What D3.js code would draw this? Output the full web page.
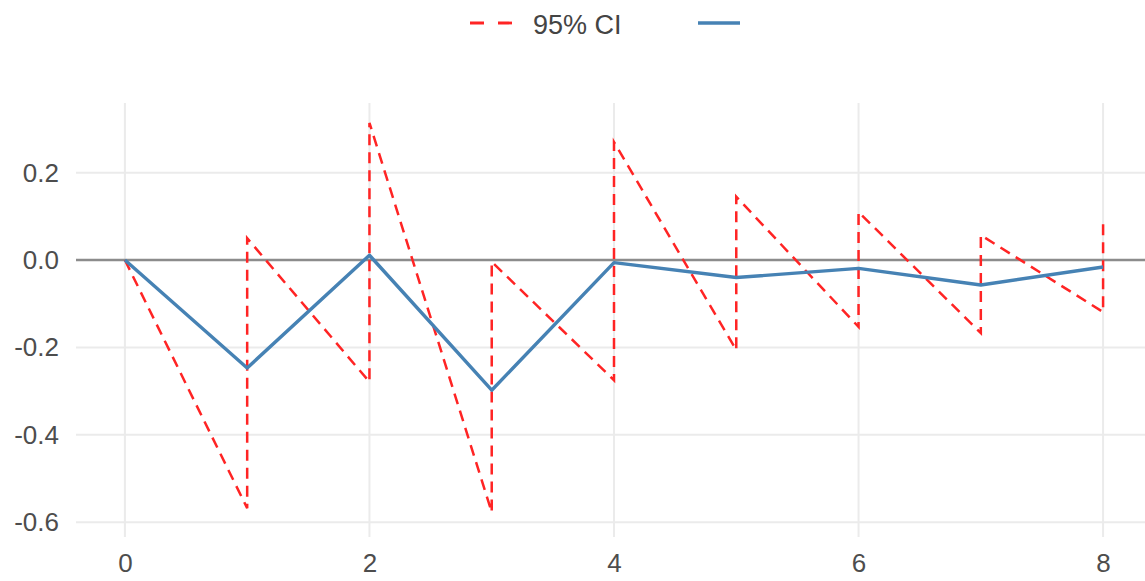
<!DOCTYPE html>
<html>
<head>
<meta charset="utf-8">
<script src="https://cdn.jsdelivr.net/npm/d3@7"></script>
<style>
  body { margin: 0; background: #fff; }
  svg { display: block; font-family: "Liberation Sans", Arial, sans-serif; }
</style>
</head>
<body>
<div id="chart"></div>
<script>
// impulse response + 95% CI
var horizon = [0, 1, 2, 3, 4, 5, 6, 7, 8];
var irf = [0, -0.247, 0.011, -0.298, -0.006, -0.040, -0.019, -0.057, -0.016];
var lower = [0, -0.568, -0.279, -0.577, -0.275, -0.206, -0.153, -0.167, -0.119];
var upper = [0, 0.050, 0.314, -0.004, 0.270, 0.145, 0.110, 0.057, 0.085];

var xTicks = [0, 2, 4, 6, 8];
var yTicks = [-0.6, -0.4, -0.2, 0, 0.2];
var ciLabel = "95% CI";

var width = 1145, height = 581;
var panel = { left: 76, right: 1152, top: 103, bottom: 537 };

var svg = d3.select("#chart").append("svg")
    .attr("width", width)
    .attr("height", height);

var x = d3.scaleLinear()
    .domain([-0.4, 8.4])
    .range([panel.left, panel.right]);

var y = d3.scaleLinear()
    .domain([-0.634, 0.3595])
    .range([panel.bottom, panel.top]);

// grid
var grid = svg.append("g");
grid.selectAll("line.h")
    .data(yTicks)
    .enter().append("line")
    .attr("x1", panel.left).attr("x2", panel.right)
    .attr("y1", d => y(d)).attr("y2", d => y(d))
    .style("stroke", "#ebebeb")
    .style("stroke-width", "2px");

grid.selectAll("line.v")
    .data(xTicks)
    .enter().append("line")
    .attr("x1", d => x(d)).attr("x2", d => x(d))
    .attr("y1", panel.top).attr("y2", panel.bottom)
    .style("stroke", "#ebebeb")
    .style("stroke-width", "2px");

// zero reference line
svg.append("line")
    .attr("x1", panel.left).attr("x2", panel.right)
    .attr("y1", y(0)).attr("y2", y(0))
    .style("stroke", "#8c8c8c")
    .style("stroke-width", "2.5px");

// CI drawn as one path: lower(t) -> upper(t) -> lower(t+1) ...
var ciPoints = [];
horizon.forEach(function (h, i) {
    ciPoints.push([h, lower[i]]);
    ciPoints.push([h, upper[i]]);
});

var line = d3.line()
    .x(d => x(d[0]))
    .y(d => y(d[1]));

svg.append("path")
    .datum(ciPoints)
    .attr("d", line)
    .style("fill", "none")
    .style("stroke", "#ff2424")
    .style("stroke-width", "2.5px")
    .style("stroke-dasharray", "11,7");

svg.append("path")
    .datum(horizon.map((h, i) => [h, irf[i]]))
    .attr("d", line)
    .style("fill", "none")
    .style("stroke", "#4682b4")
    .style("stroke-width", "3.4px")
    .style("stroke-linejoin", "round");

// axes labels
var yAxis = svg.append("g")
    .attr("transform", "translate(" + (panel.left - 17) + ",0)")
    .call(d3.axisLeft(y).tickValues(yTicks).tickSize(0).tickPadding(0)
        .tickFormat(d => d.toFixed(1)));
yAxis.select(".domain").remove();
yAxis.selectAll("text")
    .style("font-size", "26px")
    .style("font-family", "Liberation Sans, Arial, sans-serif")
    .style("fill", "#4d4d4d");

var xAxis = svg.append("g")
    .attr("transform", "translate(0," + (panel.bottom + 17) + ")")
    .call(d3.axisBottom(x).tickValues(xTicks).tickSize(0).tickPadding(0)
        .tickFormat(d3.format("d")));
xAxis.select(".domain").remove();
xAxis.selectAll("text")
    .style("font-size", "26px")
    .style("font-family", "Liberation Sans, Arial, sans-serif")
    .style("fill", "#4d4d4d");

// legend at the top
var legend = svg.append("g").attr("class", "legend");
legend.append("line")
    .attr("x1", 470).attr("x2", 512)
    .attr("y1", 23).attr("y2", 23)
    .style("stroke", "#ff2424")
    .style("stroke-width", "2.8px")
    .style("stroke-dasharray", "14,14");
legend.append("text")
    .attr("x", 533).attr("y", 34)
    .style("font-size", "27px")
    .style("fill", "#444")
    .text(ciLabel);
legend.append("line")
    .attr("x1", 698).attr("x2", 740)
    .attr("y1", 23).attr("y2", 23)
    .style("stroke", "#4682b4")
    .style("stroke-width", "3.6px");
</script>
</body>
</html>
